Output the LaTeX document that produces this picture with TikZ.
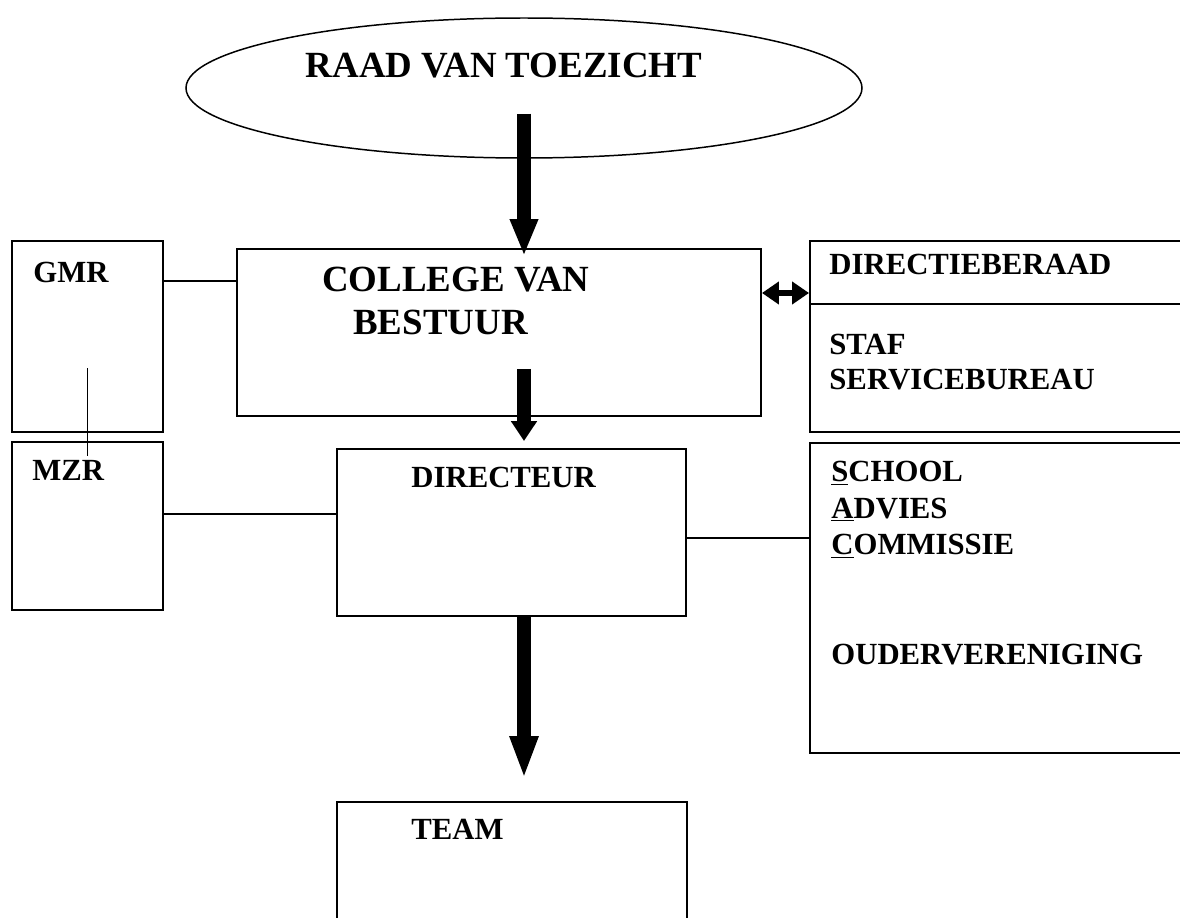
\documentclass[tikz,border=0pt]{standalone}
\usepackage{fontspec}
\setmainfont{Liberation Serif}
\usetikzlibrary{shapes.geometric,arrows.meta,calc}

\begin{document}
\begin{tikzpicture}[
    box/.style={draw, rectangle, line width=1.1pt, inner sep=0pt},
    txt/.style={inner sep=0pt, anchor=north west, align=left,
        font=\bfseries\fontsize{17.5}{19.8}\selectfont},
    big/.style={inner sep=0pt, anchor=north, align=center,
        font=\bfseries\fontsize{21}{24.4}\selectfont},
    thin/.style={line width=0.95pt},
    fat/.style={line width=0.27cm}]

   \useasboundingbox (0,0) rectangle (23.6,-18.36);

   % top
   \node[ellipse, draw, line width=0.85pt, minimum width=13.52cm, minimum height=2.8cm] (rvt) at (10.48,-1.76) {};
   \node[big] (rvtlabel) at ($(rvt.center)+(-0.4,0.7)$) {RAAD VAN TOEZICHT};

   \node[box, minimum width=10.48cm, minimum height=3.34cm] (cvb) at (9.98,-6.65) {};
   \node[big, anchor=north west, align=left] (cvblabel) at ($(cvb.north)+(-3.54,-0.38)$)
      {COLLEGE VAN\\\hspace*{0.62cm}BESTUUR};

   % left
   \node[box, minimum width=3.02cm, minimum height=3.82cm] (gmr) at (1.75,-6.73) {};
   \node[txt] (gmrlabel) at ($(gmr.north west)+(0.44,-0.44)$) {GMR};
   \node[box, minimum width=3.02cm, minimum height=3.36cm] (mzr) at (1.75,-10.52) {};
   \node[txt] (mzrlabel) at ($(mzr.north west)+(0.42,-0.38)$) {MZR};

   % middle
   \node[box, minimum width=6.98cm, minimum height=3.34cm] (dir) at (10.23,-10.65) {};
   \node[txt] (dirlabel) at ($(dir.north west)+(1.5,-0.38)$) {DIRECTEUR};
   \node[box, minimum width=7.0cm, minimum height=3.34cm] (team) at (10.24,-17.71) {};
   \node[txt] (teamlabel) at ($(team.north west)+(1.5,-0.36)$) {TEAM};

   % right
   \node[box, minimum width=8.4cm, minimum height=3.82cm] (db) at (20.4,-6.73) {};
   \draw[line width=1.1pt] ([yshift=-1.28cm]db.north west) -- ([yshift=-1.28cm]db.north east);
   \node[txt] (dblabel) at ($(db.north west)+(0.4,-0.28)$) {DIRECTIEBERAAD};
   \node[txt] (staflabel) at ($(db.north west)+(0.4,-1.88)$) {STAF\\SERVICEBUREAU};
   \node[box, minimum width=8.4cm, minimum height=6.2cm] (sac) at (20.4,-11.96) {};
   \node[txt, font=\bfseries\fontsize{17.5}{20.7}\selectfont] (saclabel) at ($(sac.north west)+(0.44,-0.38)$)
      {\underline{S}CHOOL\\\underline{A}DVIES\\\underline{C}OMMISSIE\\[42pt]OUDERVERENIGING};

   % arrows
   \draw[fat, -{Triangle[width=0.52cm,length=0.74cm]}]
      ($(rvt.south)+(0,0.9)$) -- ($(rvt.south |- cvb.north)+(0,-0.16)$);
   \draw[fat, -{Triangle[width=0.5cm,length=0.4cm]}]
      ($(rvt.south |- cvb.south)+(0,0.96)$) -- ($(rvt.south |- dir.north)+(0,0.14)$);
   \draw[fat, -{Triangle[width=0.52cm,length=0.86cm]}]
      (rvt.south |- dir.south) -- ($(rvt.south |- team.north)+(0,0.44)$);
   \draw[line width=0.12cm, {Triangle[width=0.44cm,length=0.34cm]}-{Triangle[width=0.44cm,length=0.34cm]}]
      ([yshift=0.79cm]cvb.east) -- ([yshift=0.79cm]cvb.east -| db.west);

   % lines
   \draw[thin] ([yshift=1.11cm]gmr.east) -- ([yshift=1.11cm]gmr.east -| cvb.west);
   \draw[thin] ([yshift=0.24cm]mzr.east) -- ([yshift=0.24cm]mzr.east -| dir.west);
   \draw[thin] ([yshift=-0.11cm]dir.east) -- ([yshift=-0.11cm]dir.east -| sac.west);
   \draw[thin] ($(gmr.center)+(0,-0.63)$) -- ($(mzr.north)+(0,-0.3)$);

\end{tikzpicture}
\end{document}
